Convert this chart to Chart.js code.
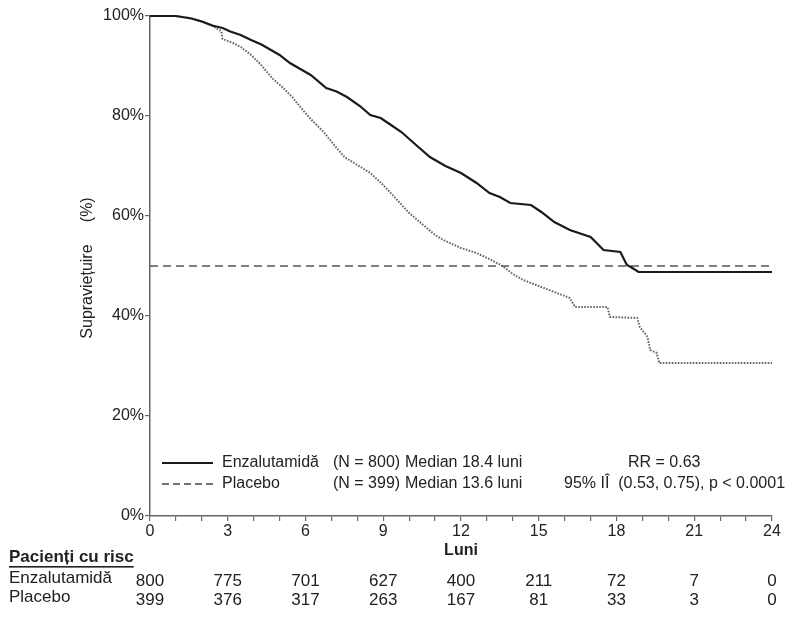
<!DOCTYPE html>
<html>
<head>
<meta charset="utf-8">
<script src="https://cdn.jsdelivr.net/npm/chart.js@4.4.1/dist/chart.umd.min.js"></script>
<style>
  html, body { margin: 0; padding: 0; background: #fff; }
  #chart { display: block; }
</style>
</head>
<body>
<canvas id="chart" width="798" height="618"></canvas>
<script>
// Kaplan-Meier values (months, % survival)
var enzaMonths = [0, 1.0, 1.6, 2.0, 2.4, 2.8, 3.1, 3.5, 3.9, 4.3, 4.6, 5.0, 5.4, 5.8, 6.2, 6.8, 7.2, 7.6, 8.1, 8.5, 8.9, 9.3, 9.7, 10.2, 10.8, 11.4, 12.0, 12.6, 13.1, 13.5, 13.9, 14.3, 14.7, 15.1, 15.6, 16.2, 17.0, 17.5, 18.15, 18.4, 18.55, 18.85, 24];
var enzaSurvival = [100, 100, 99.5, 98.9, 98.1, 97.6, 96.9, 96.2, 95.2, 94.3, 93.4, 92.2, 90.6, 89.4, 88.2, 85.6, 84.9, 83.8, 82.0, 80.2, 79.6, 78.2, 76.8, 74.5, 71.8, 70.0, 68.6, 66.6, 64.6, 63.8, 62.6, 62.4, 62.2, 60.8, 58.8, 57.2, 55.8, 53.2, 52.8, 50.2, 49.8, 48.8, 48.8];

var placeboMonths = [0, 1.0, 1.6, 2.0, 2.4, 2.6, 2.75, 2.8, 3.2, 3.5, 3.9, 4.25, 4.75, 5.1, 5.45, 5.8, 6.2, 6.7, 7.2, 7.5, 8.0, 8.5, 9.0, 9.5, 10.0, 10.5, 11.0, 11.4, 12.0, 12.6, 13.1, 13.6, 14.0, 14.4, 14.9, 15.5, 16.2, 16.4, 17.65, 17.75, 18.8, 18.9, 19.2, 19.3, 19.55, 19.65, 24];
var placeboSurvival = [100, 100, 99.5, 98.9, 98.1, 97.4, 97.0, 95.4, 94.6, 93.8, 92.2, 90.4, 87.4, 85.8, 84.0, 81.8, 79.4, 76.8, 73.6, 71.8, 70.2, 68.6, 66.2, 63.4, 60.6, 58.4, 56.2, 55.0, 53.6, 52.6, 51.4, 50.0, 48.4, 47.2, 46.2, 45.0, 43.6, 41.8, 41.8, 39.8, 39.6, 37.8, 35.8, 33.2, 32.6, 30.6, 30.6];

var medianMonths = [0, 24];
var medianLevel = [50, 50];

// patients at risk table
var riskMonths = [0, 3, 6, 9, 12, 15, 18, 21, 24];
var riskEnza = [800, 775, 701, 627, 400, 211, 72, 7, 0];
var riskPlacebo = [399, 376, 317, 263, 167, 81, 33, 3, 0];

var xLabelEvery = 3;
var yStep = 20;

var FONT = '"Liberation Sans", Arial, Helvetica, sans-serif';
var TEXT = '#222';
var AXIS = '#666';

function toPoints(xs, ys) {
  return xs.map(function (x, i) { return { x: x, y: ys[i] }; });
}

// legend, axis titles and risk table drawn on top of the chart
var extrasPlugin = {
  id: 'extras',
  afterDraw: function (chart) {
    var ctx = chart.ctx;
    var xs = chart.scales.x;
    ctx.save();
    ctx.fillStyle = TEXT;
    ctx.textBaseline = 'middle';

    // y title
    ctx.save();
    ctx.translate(88, 268);
    ctx.rotate(-Math.PI / 2);
    ctx.textAlign = 'center';
    ctx.font = '16px ' + FONT;
    ctx.fillText('Supraviețuire     (%)', 0, 0);
    ctx.restore();

    // legend samples
    ctx.strokeStyle = '#1a1a1a';
    ctx.lineWidth = 2;
    ctx.beginPath();
    ctx.moveTo(162, 463);
    ctx.lineTo(213, 463);
    ctx.stroke();
    ctx.strokeStyle = '#444';
    ctx.lineWidth = 1.6;
    ctx.setLineDash([7, 4]);
    ctx.beginPath();
    ctx.moveTo(162, 484);
    ctx.lineTo(213, 484);
    ctx.stroke();
    ctx.setLineDash([]);

    ctx.font = '16px ' + FONT;
    ctx.textAlign = 'left';
    ctx.fillText('Enzalutamidă', 222, 463);
    ctx.fillText('(N = 800)', 333, 463);
    ctx.fillText('Median 18.4 luni', 405, 463);
    ctx.fillText('RR = 0.63', 628, 463);
    ctx.fillText('Placebo', 222, 484);
    ctx.fillText('(N = 399)', 333, 484);
    ctx.fillText('Median 13.6 luni', 405, 484);
    ctx.fillText('95% IÎ  (0.53, 0.75), p < 0.0001', 564, 484);

    // x title
    ctx.font = 'bold 16px ' + FONT;
    ctx.textAlign = 'center';
    ctx.fillText('Luni', xs.getPixelForValue(12), 551);

    // risk table
    ctx.textAlign = 'left';
    ctx.font = 'bold 17px ' + FONT;
    var head = 'Pacienți cu risc';
    ctx.fillText(head, 9, 557);
    var w = ctx.measureText(head).width;
    ctx.fillRect(9, 566, w, 1.6);

    ctx.font = '17px ' + FONT;
    ctx.fillText('Enzalutamidă', 9, 578);
    ctx.fillText('Placebo', 9, 597);

    ctx.textAlign = 'center';
    riskMonths.forEach(function (m, i) {
      var px = xs.getPixelForValue(m);
      ctx.fillText(String(riskEnza[i]), px, 581);
      ctx.fillText(String(riskPlacebo[i]), px, 600);
    });
    ctx.restore();
  }
};

var axisGrid = {
  display: true,
  drawOnChartArea: false,
  drawTicks: true,
  tickLength: 5,
  color: AXIS,
  lineWidth: 1.2
};

new Chart(document.getElementById('chart'), {
  type: 'line',
  data: {
    datasets: [
      {
        label: 'Median',
        data: toPoints(medianMonths, medianLevel),
        borderColor: '#555',
        borderWidth: 1.6,
        borderDash: [8, 5],
        pointRadius: 0,
        order: 3
      },
      {
        label: 'Placebo',
        data: toPoints(placeboMonths, placeboSurvival),
        borderColor: '#666',
        borderWidth: 2,
        borderDash: [1.6, 1.4],
        pointRadius: 0,
        tension: 0,
        clip: 5,
        order: 2
      },
      {
        label: 'Enzalutamidă',
        data: toPoints(enzaMonths, enzaSurvival),
        borderColor: '#1a1a1a',
        borderWidth: 2.2,
        pointRadius: 0,
        tension: 0,
        clip: 5,
        order: 1
      }
    ]
  },
  options: {
    responsive: false,
    animation: false,
    layout: { padding: { left: 0, right: 26, top: 16, bottom: 0 } },
    plugins: {
      legend: { display: false },
      tooltip: { enabled: false }
    },
    scales: {
      x: {
        type: 'linear',
        min: 0,
        max: 24,
        afterFit: function (s) { s.height = 102; },
        grid: axisGrid,
        border: { display: true, color: AXIS, width: 1.5 },
        ticks: {
          stepSize: 1,
          autoSkip: false,
          maxRotation: 0,
          padding: 1,
          color: TEXT,
          font: { family: FONT, size: 16 },
          callback: function (v) { return v % xLabelEvery === 0 ? String(v) : ''; }
        }
      },
      y: {
        min: 0,
        max: 100,
        afterFit: function (s) { s.width = 150; },
        grid: axisGrid,
        border: { display: true, color: AXIS, width: 1.5 },
        ticks: {
          stepSize: yStep,
          padding: 1,
          color: TEXT,
          font: { family: FONT, size: 16 },
          callback: function (v) { return v + '%'; }
        }
      }
    }
  },
  plugins: [extrasPlugin]
});
</script>
</body>
</html>
